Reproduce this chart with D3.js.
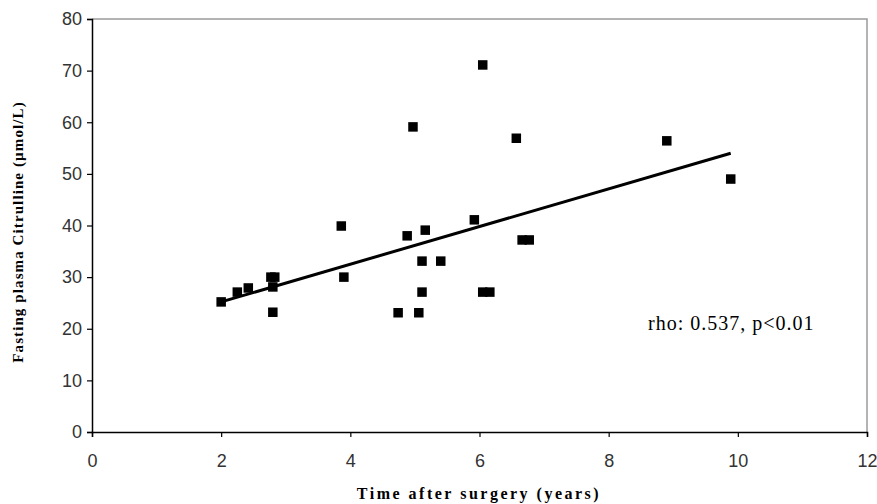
<!DOCTYPE html>
<html><head><meta charset="utf-8">
<script src="https://cdn.jsdelivr.net/npm/d3@7"></script>
<style>body{margin:0;background:#fff}svg{display:block}</style>
</head><body>
<svg id="c" width="877" height="504"></svg>
<script>
const xTicks = [0,2,4,6,8,10,12];
const yTicks = [0,10,20,30,40,50,60,70,80];
const timeYears = [2.00,2.25,2.42,2.77,2.83,2.80,2.80,3.86,3.90,4.74,5.06,4.88,5.16,5.11,5.40,5.11,4.97,6.05,6.57,5.92,6.66,6.77,6.05,6.16,8.90,9.89];
const citrulline = [25.2,27.1,27.9,30.0,30.0,28.1,23.2,39.9,30.0,23.1,23.1,38.0,39.1,33.1,33.1,27.1,59.1,71.1,56.9,41.1,37.2,37.2,27.1,27.1,56.4,49.0];
const trendX = [2.0, 9.89];
const trendY = [25.2, 54.0];
const xTitle = "Time after surgery (years)";
const yTitle = "Fasting plasma Citrulline (µmol/L)";
const note = "rho: 0.537, p<0.01";

const svg = d3.select("#c");
const x = d3.scaleLinear().domain([0,12]).range([92,867]);
const y = d3.scaleLinear().domain([0,80]).range([432,19]);

// plot frame (top & right grey)
svg.append("path").attr("d",`M${x(0)},${y(80)}H${x(12)}V${y(0)}`)
  .attr("fill","none").attr("stroke","#9a9a9a").attr("stroke-width",1.5);

const xa = svg.append("g").attr("transform",`translate(0,${y(0)})`)
  .call(d3.axisBottom(x).tickValues(xTicks).tickSize(5).tickPadding(17).tickFormat(d3.format("d")));
const ya = svg.append("g").attr("transform",`translate(${x(0)},0)`)
  .call(d3.axisLeft(y).tickValues(yTicks).tickSize(5).tickPadding(5).tickFormat(d3.format("d")));
[xa,ya].forEach(a=>{
  a.attr("font-size",null).attr("font-family",null);
  a.select(".domain").attr("stroke","#000").attr("stroke-width",1.5);
  a.selectAll(".tick line").attr("stroke","#000").attr("stroke-width",1.2);
  a.selectAll(".tick text").attr("fill","#333")
    .attr("font-family","'Liberation Sans',Arial,sans-serif").attr("font-size",18);
});

// trend line
svg.append("line")
  .attr("x1",x(trendX[0])).attr("y1",y(trendY[0]))
  .attr("x2",x(trendX[1])).attr("y2",y(trendY[1]))
  .attr("stroke","#000").attr("stroke-width",3);

// points
const s = 9.5;
svg.append("g").selectAll("rect").data(timeYears.map((t,i)=>[t,citrulline[i]]))
  .join("rect")
  .attr("x",d=>x(d[0])-s/2).attr("y",d=>y(d[1])-s/2)
  .attr("width",s).attr("height",s).attr("fill","#000");

svg.append("text").attr("x",479).attr("y",499).attr("text-anchor","middle")
  .style("font-family","'Liberation Serif',serif").style("font-weight","bold").style("font-size","16px")
  .style("letter-spacing","2.5px").text(xTitle);
svg.append("text").attr("transform","translate(23,232) rotate(-90)").attr("text-anchor","middle")
  .style("font-family","'Liberation Serif',serif").style("font-weight","bold").style("font-size","15px")
  .style("letter-spacing","1.1px").text(yTitle);
svg.append("text").attr("x",648).attr("y",330)
  .style("font-family","'Liberation Serif',serif").style("font-size","20px")
  .style("letter-spacing","1px").text(note);
</script>
</body></html>
